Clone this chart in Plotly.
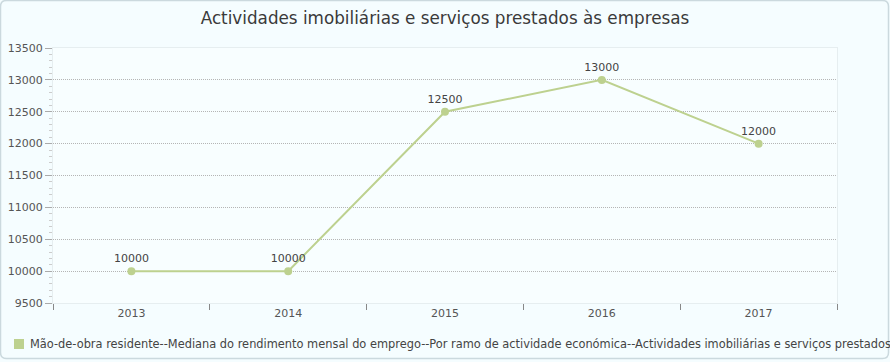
import plotly.graph_objects as go

years = ["2013", "2014", "2015", "2016", "2017"]
values = [10000, 10000, 12500, 13000, 12000]
series_name = "Mão-de-obra residente--Mediana do rendimento mensal do emprego--Por ramo de actividade económica--Actividades imobiliárias e serviços prestados às empresas"
title = "Actividades imobiliárias e serviços prestados às empresas"

color = "#bdd18f"
font = "DejaVu Sans"

W, H = 890, 362
L, R, T, B = 53, 53, 48, 59
PW, PH = W - L - R, H - T - B


def px(x):
    return (x - L) / PW


def py(y):
    return 1 - (y - T) / PH


fig = go.Figure()
fig.add_trace(go.Scatter(
    x=years, y=values, mode="lines+markers+text",
    text=[str(v) for v in values], textposition="top center",
    textfont=dict(family=font, size=11, color="#444"),
    line=dict(color=color, width=2), marker=dict(color=color, size=8),
    showlegend=False, cliponaxis=False, name=series_name,
))

# rounded outer border
r = 6
x0, x1, y0, y1 = 0.5, W - 1.5, 0.5, H - 3.5
path = (f"M {px(x0 + r)} {py(y0)} L {px(x1 - r)} {py(y0)} Q {px(x1)} {py(y0)} {px(x1)} {py(y0 + r)} "
        f"L {px(x1)} {py(y1 - r)} Q {px(x1)} {py(y1)} {px(x1 - r)} {py(y1)} "
        f"L {px(x0 + r)} {py(y1)} Q {px(x0)} {py(y1)} {px(x0)} {py(y1 - r)} "
        f"L {px(x0)} {py(y0 + r)} Q {px(x0)} {py(y0)} {px(x0 + r)} {py(y0)} Z")

fig.update_layout(
    width=W, height=H,
    margin=dict(l=L, r=R, t=T, b=B, autoexpand=False),
    paper_bgcolor="#f5fdff", plot_bgcolor="#f8feff",
    title=dict(text=title, x=0.5, xanchor="center", y=1 - 18 / H, yanchor="middle",
               font=dict(family=font, size=16.8, color="#3a3a3a")),
    font=dict(family=font, size=11, color="#555"),
    showlegend=False,
    shapes=[
        dict(type="path", xref="paper", yref="paper", path=path,
             line=dict(color="#cbd9de", width=1.5), layer="below"),
        dict(type="rect", xref="paper", yref="paper",
             x0=px(14), x1=px(24), y0=py(349), y1=py(339),
             fillcolor=color, line=dict(width=0)),
    ],
    annotations=[dict(text=series_name, xref="paper", yref="paper",
                      x=px(28), y=py(344), xanchor="left", yanchor="middle",
                      showarrow=False,
                      font=dict(family=font, size=11.4, color="#444"))],
)

fig.update_xaxes(type="category", range=[-0.5, 4.5], tickson="boundaries",
                 ticks="outside", ticklen=6, tickcolor="#888", showgrid=False,
                 showline=True, linecolor="#e6eef0", mirror=True, automargin=False,
                 tickfont=dict(family=font, size=11, color="#555"))
fig.update_yaxes(range=[9500, 13500], dtick=500, tickformat="d", ticks="outside", ticklen=7,
                 tickcolor="#aaa", showline=True, linecolor="#e6eef0", mirror=True,
                 gridcolor="#b5b5b5", griddash="1px,1px", gridwidth=1, zeroline=False,
                 automargin=False,
                 minor=dict(dtick=100, ticks="outside", ticklen=3, tickcolor="#ccc", showgrid=False),
                 tickfont=dict(family=font, size=11, color="#555"))

fig.write_html("out.html", config={"displayModeBar": False},
               post_script="document.body.style.margin='0';document.body.style.overflow='hidden';")
